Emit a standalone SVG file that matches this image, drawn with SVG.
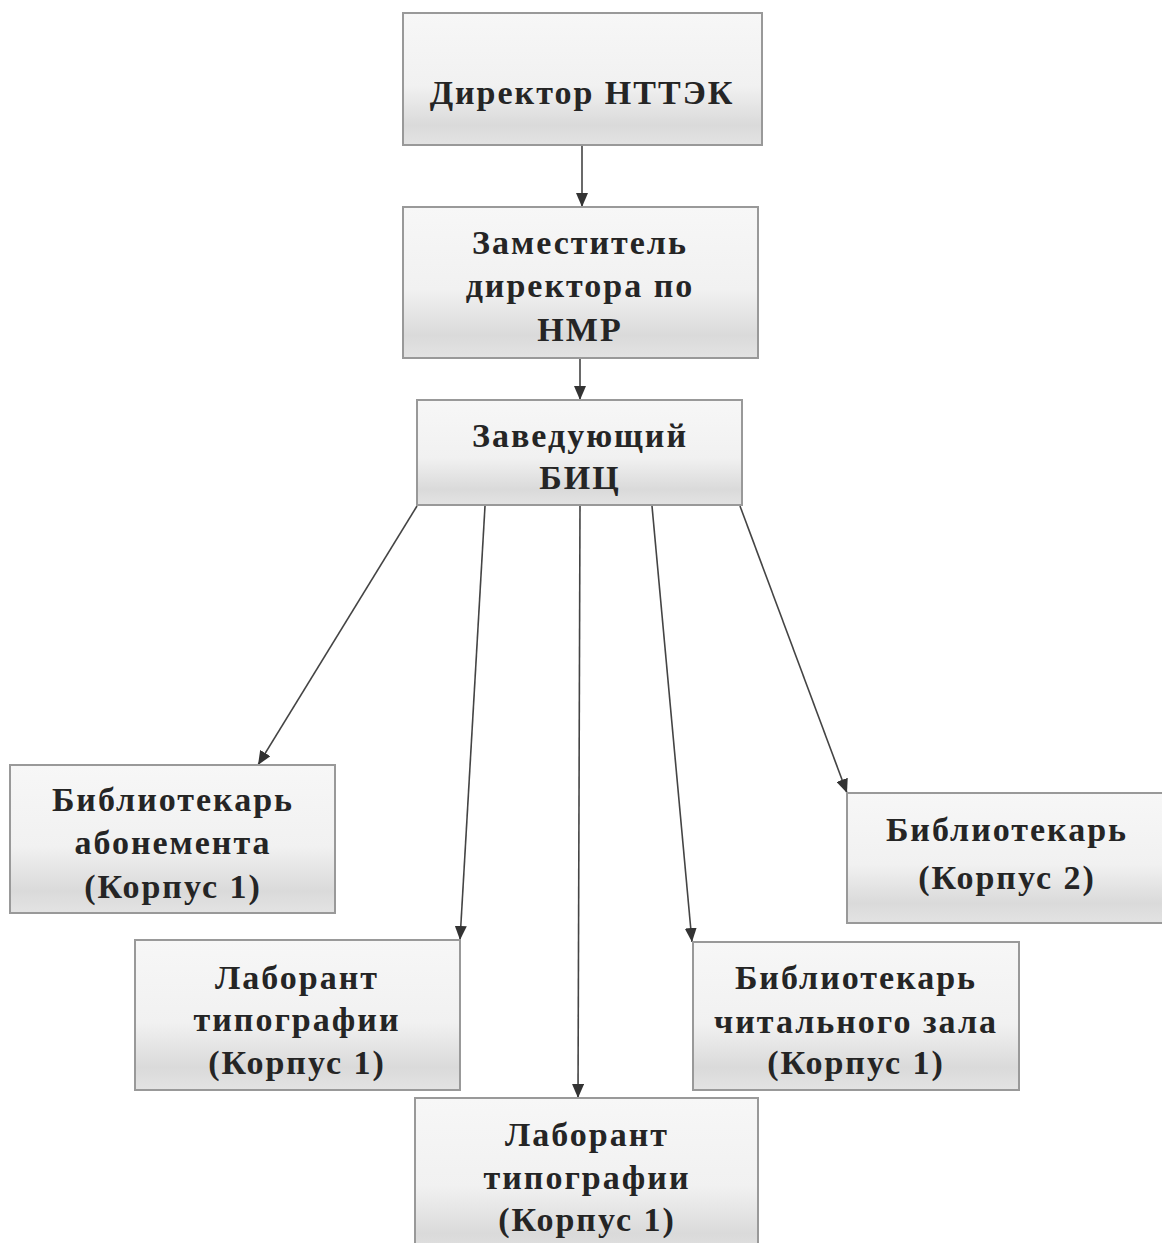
<svg xmlns="http://www.w3.org/2000/svg" width="1162" height="1243" viewBox="0 0 1162 1243">
<defs>
<linearGradient id="g" x1="0" y1="0" x2="0" y2="1">
<stop offset="0" stop-color="#f7f7f7"/>
<stop offset="0.55" stop-color="#f1f1f1"/>
<stop offset="0.85" stop-color="#dadada"/>
<stop offset="1" stop-color="#e3e3e3"/>
</linearGradient>
<marker id="ah" markerUnits="userSpaceOnUse" markerWidth="14" markerHeight="12" refX="14" refY="6" orient="auto">
<path d="M0,0 L14,6 L0,12 Z" fill="#333"/>
</marker>
<style>
.box{fill:url(#g);stroke:#999;stroke-width:2}
.t{font-family:"Liberation Serif","Times New Roman",serif;font-weight:bold;font-size:34px;letter-spacing:2px;fill:#252525;text-anchor:middle}
.c{stroke:#444;stroke-width:1.6;fill:none;marker-end:url(#ah)}
</style>
</defs>
<rect width="1162" height="1243" fill="#ffffff"/>
<g id="connectors">
<path class="c" d="M582,145 L582,207"/>
<path class="c" d="M580,358 L580,400"/>
<path class="c" d="M417,506 L258,765"/>
<path class="c" d="M485,506 L460,940"/>
<path class="c" d="M580,506 L578,1098"/>
<path class="c" d="M652,506 L692,942"/>
<path class="c" d="M740,506 L847,793"/>
</g>
<g id="director">
<rect class="box" x="403" y="13" width="359" height="132"/>
<text class="t" x="582" y="104">Директор НТТЭК</text>
</g>
<g id="deputy">
<rect class="box" x="403" y="207" width="355" height="151"/>
<text class="t" x="580" y="254">Заместитель</text>
<text class="t" x="580" y="297">директора по</text>
<text class="t" x="580" y="341">НМР</text>
</g>
<g id="head">
<rect class="box" x="417" y="400" width="325" height="105"/>
<text class="t" x="580" y="447">Заведующий</text>
<text class="t" x="580" y="489">БИЦ</text>
</g>
<g id="lib-abonement">
<rect class="box" x="10" y="765" width="325" height="148"/>
<text class="t" x="173" y="811">Библиотекарь</text>
<text class="t" x="173" y="854">абонемента</text>
<text class="t" x="173" y="898">(Корпус 1)</text>
</g>
<g id="lab-left">
<rect class="box" x="135" y="940" width="325" height="150"/>
<text class="t" x="297" y="989">Лаборант</text>
<text class="t" x="297" y="1031">типографии</text>
<text class="t" x="297" y="1074">(Корпус 1)</text>
</g>
<g id="lib-building2">
<rect class="box" x="847" y="793" width="320" height="130"/>
<text class="t" x="1007" y="841">Библиотекарь</text>
<text class="t" x="1007" y="889">(Корпус 2)</text>
</g>
<g id="lib-reading">
<rect class="box" x="693" y="942" width="326" height="148"/>
<text class="t" x="856" y="989">Библиотекарь</text>
<text class="t" x="856" y="1033">читального зала</text>
<text class="t" x="856" y="1074">(Корпус 1)</text>
</g>
<g id="lab-bottom">
<rect class="box" x="415" y="1098" width="343" height="160"/>
<text class="t" x="587" y="1146">Лаборант</text>
<text class="t" x="587" y="1189">типографии</text>
<text class="t" x="587" y="1231">(Корпус 1)</text>
</g>
</svg>
